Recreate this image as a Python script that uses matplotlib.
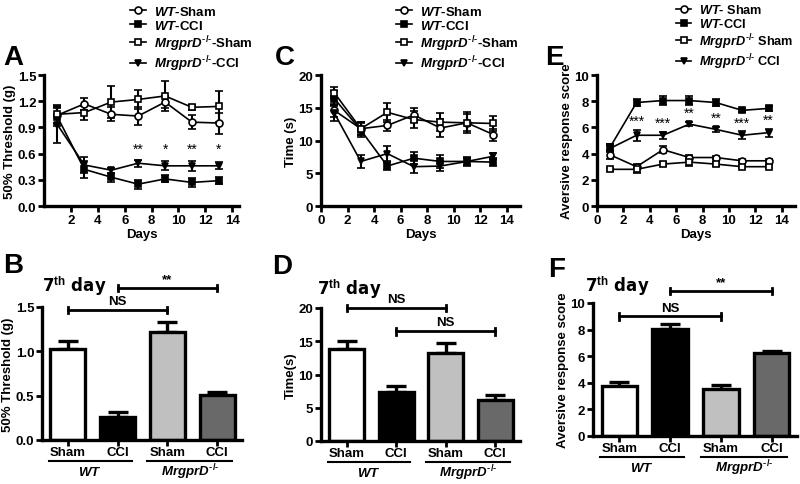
import numpy as np
import matplotlib
matplotlib.use('Agg')
import matplotlib.pyplot as plt

plt.rcParams['font.family'] = ['Liberation Sans', 'DejaVu Sans']
plt.rcParams['font.weight'] = 'bold'
plt.rcParams['mathtext.fontset'] = 'custom'
plt.rcParams['mathtext.rm'] = 'Liberation Sans:bold'
plt.rcParams['mathtext.it'] = 'Liberation Sans:italic:bold'
plt.rcParams['mathtext.bf'] = 'Liberation Sans:bold'
plt.rcParams['mathtext.default'] = 'it'

# time course data (days after surgery)
days = [1, 3, 5, 7, 9, 11, 13]

# 50% paw withdrawal threshold (g)
thr_wt_sham = [1.04, 1.17, 1.05, 1.03, 1.19, 0.96, 0.95]
thr_wt_sham_err = [0.09, 0.07, 0.08, 0.10, 0.07, 0.08, 0.12]
thr_wt_cci = [1.02, 0.42, 0.33, 0.25, 0.31, 0.27, 0.29]
thr_wt_cci_err = [0.10, 0.10, 0.05, 0.05, 0.04, 0.05, 0.04]
thr_ko_sham = [1.05, 1.07, 1.19, 1.22, 1.26, 1.13, 1.14]
thr_ko_sham_err = [0.11, 0.08, 0.18, 0.11, 0.17, 0.03, 0.18]
thr_ko_cci = [0.93, 0.47, 0.41, 0.49, 0.46, 0.46, 0.46]
thr_ko_cci_err = [0.21, 0.09, 0.03, 0.04, 0.05, 0.06, 0.04]
thr_stars = ['', '', '', '**', '*', '**', '*']

# time (s)
t_wt_sham = [14.6, 11.8, 12.3, 13.9, 11.9, 12.7, 10.9]
t_wt_sham_err = [1.0, 1.0, 0.9, 1.0, 1.4, 1.3, 0.9]
t_wt_cci = [16.4, 11.6, 6.1, 7.3, 6.8, 6.8, 6.7]
t_wt_cci_err = [1.2, 1.0, 0.6, 0.9, 1.0, 0.7, 0.6]
t_ko_sham = [17.3, 11.8, 14.3, 13.2, 12.8, 12.7, 12.6]
t_ko_sham_err = [0.8, 1.0, 1.4, 1.3, 1.4, 1.6, 1.2]
t_ko_cci = [14.2, 6.8, 8.0, 6.0, 6.1, 6.8, 7.6]
t_ko_cci_err = [1.2, 1.0, 1.2, 1.0, 0.8, 0.6, 0.5]

# aversive response score
s_wt_sham = [3.9, 3.0, 4.3, 3.7, 3.7, 3.45, 3.45]
s_wt_sham_err = [0.3, 0.2, 0.25, 0.2, 0.15, 0.1, 0.1]
s_wt_cci = [4.5, 7.9, 8.05, 8.05, 7.9, 7.3, 7.45]
s_wt_cci_err = [0.25, 0.25, 0.35, 0.35, 0.25, 0.1, 0.2]
s_ko_sham = [2.8, 2.8, 3.2, 3.35, 3.2, 3.0, 3.0]
s_ko_sham_err = [0.1, 0.3, 0.15, 0.3, 0.15, 0.1, 0.1]
s_ko_cci = [4.4, 5.4, 5.4, 6.25, 5.85, 5.4, 5.6]
s_ko_cci_err = [0.3, 0.4, 0.25, 0.15, 0.2, 0.3, 0.3]
s_stars = ['', '***', '***', '**', '**', '***', '**']

# 7th day bar data: WT sham, WT CCI, MrgprD sham, MrgprD CCI
bar_labels = ['Sham', 'CCI', 'Sham', 'CCI']
b_thr = [1.03, 0.26, 1.22, 0.51]
b_thr_err = [0.09, 0.06, 0.11, 0.03]
b_time = [13.9, 7.4, 13.3, 6.1]
b_time_err = [1.2, 0.8, 1.4, 0.8]
b_score = [3.75, 8.05, 3.5, 6.25]
b_score_err = [0.3, 0.38, 0.35, 0.17]
bar_colors = ['white', 'black', '#c0c0c0', '#696969']

ko = r'$MrgprD^{\text{-/-}}$'
legend_ac = [r'$WT$-Sham', r'$WT$-CCI', ko + '-Sham', ko + '-CCI']
legend_e = [r'$WT$- Sham', r'$WT$-CCI', ko + ' Sham', ko + ' CCI']
markers = [('o', 'white'), ('s', 'black'), ('s', 'white'), ('v', 'black')]

W, H = 800, 485
fig = plt.figure(figsize=(8, 4.85), dpi=100)


def add_ax(l, r, t, b):
    # axes rect given in pixels of the final image
    ax = fig.add_axes([l / W, 1 - b / H, (r - l) / W, (b - t) / H])
    for s in ['top', 'right']:
        ax.spines[s].set_visible(False)
    for s in ['left', 'bottom']:
        ax.spines[s].set_linewidth(2.4)
    ax.tick_params(direction='out', length=4, width=2, labelsize=9.5, pad=1.5)
    return ax


def bold_ticks(ax):
    for lab in ax.get_xticklabels() + ax.get_yticklabels():
        lab.set_fontweight('bold')


def line_panel(ax, series, errs, labels, leg_xy, leg_size=9.5):
    handles = []
    for vals, err, (m, fc) in zip(series, errs, markers):
        c = ax.errorbar(days, vals, yerr=err, color='black', marker=m, mfc=fc, mec='black',
                        ms=5, mew=1.2, lw=1.2, elinewidth=1.5, capsize=3, capthick=1.5, clip_on=False)
        handles.append(c.lines[0])
    ax.set_xlabel('Days', fontsize=9.5, fontweight='bold', labelpad=2)
    ax.legend(handles, labels, loc='upper left', bbox_to_anchor=(leg_xy[0] / W, 1 - leg_xy[1] / H),
              bbox_transform=fig.transFigure, frameon=False, borderaxespad=0, borderpad=0,
              handlelength=1.2, handletextpad=0.6, labelspacing=0.08,
              prop={'size': leg_size, 'weight': 'bold'})


def bracket(ax, x0, x1, y, label, cap):
    ax.plot([x0, x1], [y, y], color='black', lw=2, clip_on=False)
    for x in (x0, x1):
        ax.plot([x, x], [y - cap, y + cap], color='black', lw=2, clip_on=False)
    ax.annotate(label, (0.5 * (x0 + x1), y), xytext=(0, 2), textcoords='offset points',
                ha='center', va='bottom', fontsize=9.5, fontweight='bold', annotation_clip=False)


def bar_panel(ax, vals, errs, ylim, yticks, ylabel):
    x = np.arange(len(vals))
    ax.bar(x, vals, width=0.7, color=bar_colors, edgecolor='black', linewidth=2.4, zorder=2)
    ax.errorbar(x, vals, yerr=[np.zeros(len(errs)), errs], fmt='none', ecolor='black',
                elinewidth=2.4, capsize=7, capthick=2.4, zorder=1)
    ax.set_xlim(-0.52, 3.5)
    ax.set_ylim(*ylim)
    ax.set_yticks(yticks)
    ax.set_xticks(x)
    ax.set_xticklabels(bar_labels, fontsize=9.5, fontweight='bold')
    ax.tick_params(axis='x', pad=0.5)
    ax.set_ylabel(ylabel, fontsize=9.5, fontweight='bold', labelpad=1)
    tr = ax.get_xaxis_transform()
    for (a, b), g in zip([(-0.38, 1.28), (1.6, 3.3)], [r'$WT$', ko]):
        ax.plot([a, b], [-0.155, -0.155], color='black', lw=1.5, transform=tr, clip_on=False)
        ax.text(0.5 * (a + b), -0.235, g, transform=tr, ha='center', va='center', fontsize=9.5)


# ---- A ----
axA = add_ax(44, 239, 76, 207)
line_panel(axA, [thr_wt_sham, thr_wt_cci, thr_ko_sham, thr_ko_cci],
           [thr_wt_sham_err, thr_wt_cci_err, thr_ko_sham_err, thr_ko_cci_err], legend_ac, (130, 6))
axA.set_xlim(0, 14.5)
axA.set_xticks([2, 4, 6, 8, 10, 12, 14])
axA.set_ylim(0, 1.5)
axA.set_yticks([0.0, 0.3, 0.6, 0.9, 1.2, 1.5])
axA.set_yticklabels(['0.0', '0.3', '0.6', '0.9', '1.2', '1.5'])
axA.set_ylabel('50% Threshold (g)', fontsize=9.5, fontweight='bold', labelpad=1)
for d, s in zip(days, thr_stars):
    if s:
        axA.text(d, 0.58, s, ha='center', va='bottom', fontsize=10, fontweight='normal')
bold_ticks(axA)

# ---- C ----
axC = add_ax(321, 520, 76, 207)
line_panel(axC, [t_wt_sham, t_wt_cci, t_ko_sham, t_ko_cci],
           [t_wt_sham_err, t_wt_cci_err, t_ko_sham_err, t_ko_cci_err], legend_ac, (396, 6))
axC.set_xlim(0, 15)
axC.set_xticks(range(0, 15, 2))
axC.set_ylim(0, 20)
axC.set_yticks([0, 5, 10, 15, 20])
axC.set_ylabel('Time (s)', fontsize=9.5, fontweight='bold', labelpad=1)
bold_ticks(axC)

# ---- E ----
axE = add_ax(597, 795, 76, 207)
line_panel(axE, [s_wt_sham, s_wt_cci, s_ko_sham, s_ko_cci],
           [s_wt_sham_err, s_wt_cci_err, s_ko_sham_err, s_ko_cci_err], legend_e, (676, 4), leg_size=9.2)
axE.set_xlim(0, 15)
axE.set_xticks(range(0, 15, 2))
axE.set_ylim(0, 10)
axE.set_yticks([0, 2, 4, 6, 8, 10])
axE.set_ylabel('Aversive response score', fontsize=9.5, fontweight='bold', labelpad=1)
for d, v, e, s in zip(days, s_ko_cci, s_ko_cci_err, s_stars):
    if s:
        axE.text(d, v + e + 0.15, s, ha='center', va='bottom', fontsize=10, fontweight='normal')
bold_ticks(axE)

# ---- B ----
axB = add_ax(42, 242, 308, 441)
bar_panel(axB, b_thr, b_thr_err, (0, 1.5), [0.0, 0.5, 1.0, 1.5], '50% Threshold (g)')
axB.set_yticklabels(['0.0', '0.5', '1.0', '1.5'])
bracket(axB, 0, 2, 1.47, 'NS', 0.035)
bracket(axB, 1, 3, 1.71, '**', 0.035)
bold_ticks(axB)

# ---- D ----
axD = add_ax(321, 520, 309, 442)
bar_panel(axD, b_time, b_time_err, (0, 20), [0, 5, 10, 15, 20], 'Time(s)')
bracket(axD, 0, 2, 20.0, 'NS', 0.5)
bracket(axD, 1, 3, 16.5, 'NS', 0.5)
bold_ticks(axD)

# ---- F ----
axF = add_ax(593, 797, 304, 437)
bar_panel(axF, b_score, b_score_err, (0, 10), [0, 2, 4, 6, 8, 10], 'Aversive response score')
bracket(axF, 0, 2, 9.0, 'NS', 0.25)
bracket(axF, 1, 3, 10.9, '**', 0.25)
bold_ticks(axF)

# titles for the bar panels
for x, y in [(42, 286), (317, 289), (585, 286)]:
    fig.text(x / W, 1 - y / H, r'7$^{\mathrm{th}}$ day', family='DejaVu Sans', fontsize=12,
             fontweight='bold', va='center', ha='left')

# panel letters
for lab, x, y in [('A', 3, 58), ('C', 275, 58), ('E', 545, 58),
                  ('B', 3, 266), ('D', 272, 267), ('F', 548, 270)]:
    fig.text(x / W, 1 - y / H, lab, fontsize=20, fontweight='bold', va='center', ha='left')

fig.savefig('out.png', dpi=100)
